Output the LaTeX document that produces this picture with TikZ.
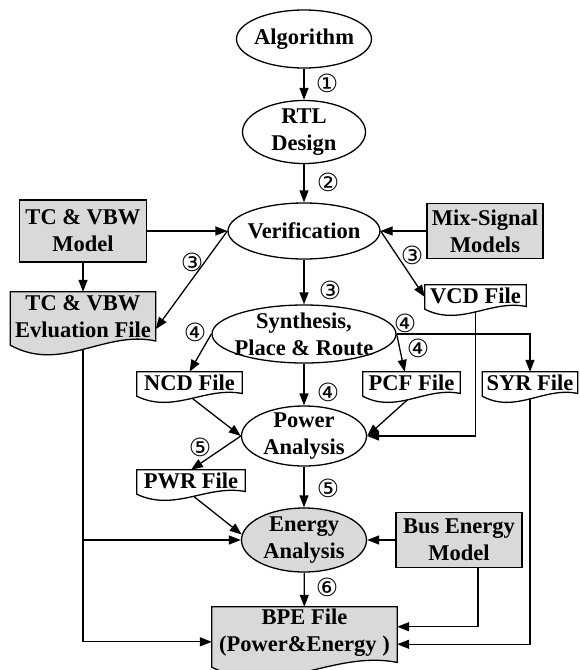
\documentclass[tikz,border=0pt]{standalone}
\usepackage{fontspec}
\setmainfont{Liberation Serif}
\newfontfamily\circfont{DejaVu Sans}
\usetikzlibrary{shapes.geometric,arrows.meta,calc}
\definecolor{boxgray}{HTML}{D9D9D9}
\pgfdeclarelayer{bg}
\pgfsetlayers{bg,main}
\newcommand{\docshape}[3]{%
  \draw[line width=1.3pt, fill=#3] (#1.north west) -- (#1.south west)
    .. controls ($(#1.south west)!0.35!(#1.south east)+(0,#2*2)$)
    and ($(#1.south west)!0.65!(#1.south east)+(0,-#2*1.1)$)
    .. ($(#1.south east)+(0,-#2*0.3)$)
    -- (#1.north east) -- cycle;}
\begin{document}
\begin{tikzpicture}[x=1pt,y=-1pt,
  every node/.style={font=\fontsize{22.5}{27}\selectfont\bfseries, align=center, inner sep=0pt},
  ell/.style={ellipse, draw, line width=1.3pt, fill=white},
  gell/.style={ell, fill=boxgray},
  gbox/.style={rectangle, draw, line width=1.3pt, fill=boxgray},
  docn/.style={rectangle, draw=none},
  arr/.style={line width=1.3pt, -{Triangle[length=12pt,width=9pt]}},
  num/.style={font=\circfont\fontsize{25}{25}\selectfont}
]
\useasboundingbox (0,0) rectangle (579,670);

% ellipses
\node[ell, minimum width=135pt, minimum height=58pt] (alg) at (304,39) {};
\node (alg-t) at (alg) {Algorithm};
\node[ell, minimum width=123pt, minimum height=63pt] (rtl) at (304,132) {};
\node (rtl-t) at (rtl) {RTL\\Design};
\node[ell, minimum width=152pt, minimum height=56pt] (ver) at (304,231) {};
\node (ver-t) at (ver) {Verification};
\node[ell, minimum width=184pt, minimum height=58pt] (synth) at (304,334) {};
\node (synth-t) at (synth) {Synthesis,\\Place \& Route};
\node[ell, minimum width=125pt, minimum height=60pt] (power) at (304,436) {};
\node (power-t) at (power) {Power\\Analysis};
\node[gell, minimum width=125pt, minimum height=64pt] (energy) at (304,540) {};
\node (energy-t) at (energy) {Energy\\Analysis};

% boxes
\node[gbox, minimum width=127pt, minimum height=62pt] (tc) at (83,231) {TC \& VBW\\Model};
\node[gbox, minimum width=116pt, minimum height=55pt] (mix) at (485,231) {Mix-Signal\\Models};
\node[gbox, minimum width=126pt, minimum height=55pt] (bus) at (459,540) {Bus Energy\\Model};

% documents
\node[docn, minimum width=145pt, minimum height=53pt] (eval) at (83,318.5) {};
\docshape{eval}{14}{boxgray}
\node (eval-t) at (83,317) {TC \& VBW\\Evluation File};

\node[docn, minimum width=101pt, minimum height=24pt] (vcd) at (475.5,297) {};
\docshape{vcd}{9}{white}
\node (vcd-t) at (475.5,295.5) {VCD File};

\node[docn, minimum width=105pt, minimum height=24pt] (ncd) at (189.5,384) {};
\docshape{ncd}{9}{white}
\node (ncd-t) at (189.5,382.5) {NCD File};

\node[docn, minimum width=97pt, minimum height=24pt] (pcf) at (411.5,384) {};
\docshape{pcf}{9}{white}
\node (pcf-t) at (411.5,382.5) {PCF File};

\node[docn, minimum width=95pt, minimum height=24pt] (syr) at (530,384) {};
\docshape{syr}{9}{white}
\node (syr-t) at (530,382.5) {SYR File};

\node[docn, minimum width=108pt, minimum height=24pt] (pwr) at (191,482) {};
\docshape{pwr}{9}{white}
\node (pwr-t) at (191,480.5) {PWR File};

\node[docn, minimum width=185pt, minimum height=60pt] (bpe) at (304.5,637) {};
\docshape{bpe}{16}{boxgray}
\node (bpe-t) at (304.5,633) {BPE File\\(Power\&Energy )};

% connectors
\begin{pgfonlayer}{bg}
\draw[arr] (alg) -- (rtl);
\draw[arr] (rtl) -- (ver);
\draw[arr] (tc.east) -- (ver.west);
\draw[arr] (mix.west) -- (ver.east);
\draw[arr] (tc.south) -- (tc.south |- eval.north);
\draw[arr] (ver.west) -- ($(eval.north east)!0.7!(eval.south east)$);
\draw[arr] (ver.east) -- (vcd.west);
\draw[arr] (ver) -- (synth);
\draw[arr] (synth.west) -- (ncd.north);
\draw[arr] (synth.east) -- ($(pcf.north west)!0.43!(pcf.north east)$);
\draw[arr] (synth.east) -| (syr.north);
\draw[arr] (synth) -- (power);
\draw[arr] (ncd.south) -- (power.west);
\draw[arr] (pcf.south) -- (power.east);
\draw[arr] (vcd.south) |- (power.east);
\draw[arr] (power.west) -- (pwr.north);
\draw[arr] (power) -- (energy);
\draw[arr] (pwr.south) -- (energy.175);
\draw[arr] (eval.south) |- (energy.west);
\draw[arr] (eval.south) |- ($(bpe.north west)!0.58!(bpe.south west)$);
\draw[arr] (bus.west) -- (energy.east);
\draw[arr] (energy) -- (bpe);
\draw[arr] ($(bus.south west)!0.65!(bus.south east)$) |- ($(bpe.north east)!0.33!(bpe.south east)$);
\draw[arr] (syr.south) |- ($(bpe.north east)!0.62!(bpe.south east)$);
\end{pgfonlayer}

% step numbers
\node[num] (n1) at (327,83) {①};
\node[num] (n2) at (328,182) {②};
\node[num] (n3a) at (192,262) {③};
\node[num] (n3b) at (330,290) {③};
\node[num] (n3c) at (412,255) {③};
\node[num] (n4a) at (195,332) {④};
\node[num] (n4b) at (405,323) {④};
\node[num] (n4c) at (418,348) {④};
\node[num] (n4d) at (328,392) {④};
\node[num] (n5a) at (200,447) {⑤};
\node[num] (n5b) at (328,488) {⑤};
\node[num] (n6) at (327,587) {⑥};
\end{tikzpicture}
\end{document}
